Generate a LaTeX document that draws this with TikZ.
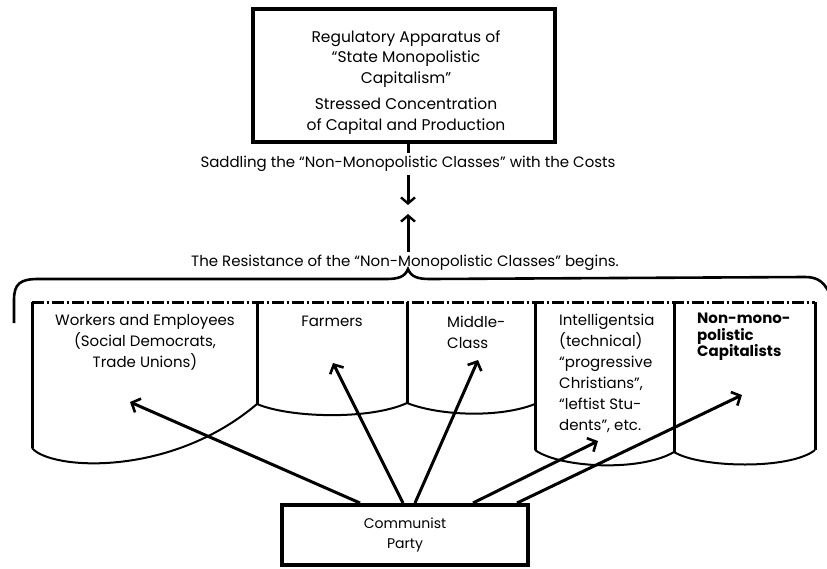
\documentclass[tikz,border=0pt]{standalone}
\usepackage{fontspec}
\setmainfont{Poppins}
\usepackage{tikz}
\usetikzlibrary{arrows.meta}

\begin{document}
\begin{tikzpicture}[x=1pt, y=-1pt,
            thickbox/.style={draw, line width=4pt, inner sep=0pt},
            txt/.style={font=\fontsize{15}{21}\selectfont, inner sep=0pt},
            barb/.style={line width=3pt, -{Straight Barb[length=7pt, width=15pt, line width=2.6pt]}},
            divider/.style={line width=3pt},
            wave/.style={line width=2pt}]
            \useasboundingbox (0, 0) rectangle (827, 568);

            \node[thickbox, minimum width=302pt, minimum height=133pt] (regbox) at (403.5, 75) {};
            \node[txt, align=center, font=\fontsize{15.5}{20.5}\selectfont] (regtext) at (406, 59) {Regulatory Apparatus of\\“State Monopolistic\\Capitalism”};
            \node[txt, align=center, font=\fontsize{15.5}{21}\selectfont] (stress) at (406, 116) {Stressed Concentration\\of Capital and Production};

            \node[txt, inner ysep=3pt] (saddle) at (408, 164) {Saddling the “Non-Monopolistic Classes” with the Costs};
            \coordinate (downtip) at (408, 205);
            \coordinate (uptip) at (408, 214);
            \coordinate (bracetip) at (408, 269);
            \draw[line width=3pt] (regbox.south -| downtip) -- (saddle.north -| downtip);
            \draw[barb, -{Straight Barb[length=6pt, width=14pt, line width=2.4pt]}] (saddle.south -| downtip) -- (downtip);

            \node[txt, inner ysep=3pt] (resist) at (405, 263) {The Resistance of the “Non-Monopolistic Classes” begins.};
            \draw[barb, -{Straight Barb[length=6pt, width=14pt, line width=2.4pt]}] (resist.north -| uptip) -- (uptip);
            \draw[line width=2.6pt] (14, 323) -- (14, 300) .. controls (14, 284) and (20, 279) .. (38, 279)
                -- (386, 279) .. controls (398, 279) and (405, 277) .. (bracetip)
                .. controls (411, 277) and (418, 279) .. (430, 279)
                -- (805, 277) .. controls (818, 277) and (826, 282) .. (832, 300);

            \draw[line width=3pt, dash pattern=on 12pt off 3pt on 2pt off 3pt] (32, 302) -- (815, 302);
            \draw[divider] (32, 302) -- (32, 448);
            \draw[divider] (257, 302) -- (257, 404);
            \draw[divider] (407, 302) -- (407, 403);
            \draw[divider] (535, 302) -- (535, 450);
            \draw[divider] (674, 302) -- (674, 452);
            \draw[divider] (815, 302) -- (815, 450);
            \draw[wave] (32, 448) .. controls (50, 470) and (170, 478) .. (257, 404);
            \draw[wave] (257, 404) .. controls (290, 418) and (370, 420) .. (407, 403);
            \draw[wave] (407, 403) .. controls (440, 416) and (500, 418) .. (535, 404);
            \draw[wave] (535, 450) .. controls (560, 468) and (640, 472) .. (674, 452);
            \draw[wave] (674, 452) .. controls (700, 468) and (790, 470) .. (815, 450);

            \node[txt, align=center] (workers) at (145, 342) {Workers and Employees\\(Social Democrats,\\Trade Unions)};
            \node[txt] (farmers) at (332, 321) {Farmers};
            \node[txt, align=left, anchor=west] (middle) at (447, 332) {Middle-\\Class};
            \node[txt, align=left, anchor=west] (intel) at (559, 373) {Intelligentsia\\(technical)\\“progressive\\Christians”,\\“leftist Stu-\\dents”, etc.};
            \node[txt, align=left, anchor=west, font=\bfseries\fontsize{15}{16.5}\selectfont] (nonmono) at (697, 337) {Non-mono-\\polistic\\Capitalists};

            \node[thickbox, minimum width=246pt, minimum height=60pt, align=center, font=\fontsize{14}{20}\selectfont] (kp) at (405, 535) {Communist\\Party};

            \draw[barb] ([xshift=-45pt]kp.north) -- (130, 402);
            \draw[barb] ([xshift=-2pt]kp.north) -- (333, 363);
            \draw[barb] ([xshift=10pt]kp.north) -- (478, 360);
            \draw[barb] ([xshift=68pt]kp.north) -- (598, 441);
            \draw[barb] ([xshift=112pt]kp.north) -- (742, 395);
\end{tikzpicture}
\end{document}
